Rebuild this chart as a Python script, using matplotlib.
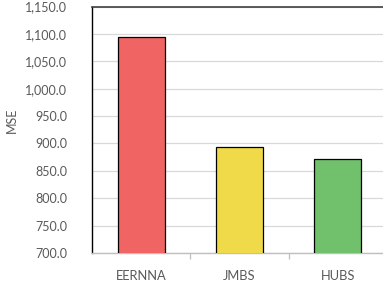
import matplotlib
matplotlib.use("Agg")
import matplotlib.pyplot as plt
from matplotlib.ticker import FuncFormatter, MultipleLocator

categories = ["EERNNA", "JMBS", "HUBS"]
mse_values = [1093.5, 893.5, 872.5]
bar_colors = ["#f06464", "#f0da4a", "#70c06c"]

plt.rcParams['font.family'] = ['Lato', 'DejaVu Sans']

fig = plt.figure(figsize=(3.83, 2.90), dpi=100)
W, H = 383, 290
ax = fig.add_axes([92 / W, 1 - 253 / H, (387 - 92) / W, (253 - 6.5) / H])

x = range(len(categories))
ax.bar(x, mse_values, width=0.475, color=bar_colors, edgecolor="black", linewidth=0.9, zorder=3)

ax.set_xlim(-0.5, 2.5)
ax.set_ylim(700, 1150)
ax.yaxis.set_major_locator(MultipleLocator(50))
ax.yaxis.set_major_formatter(FuncFormatter(lambda v, p: f"{v:,.1f}"))
ax.grid(axis="y", color="#d9d9d9", linewidth=0.9, zorder=0)

ax.set_xticks(list(x))
ax.set_xticklabels(categories)
ax.set_xticks([0.5, 1.5], minor=True)
ax.tick_params(axis="x", which="major", length=0, pad=12, labelsize=9.3, labelcolor="#595959")
ax.tick_params(axis="x", which="minor", length=4, color="#bfbfbf", width=0.9)
ax.tick_params(axis="y", length=0, pad=18, labelsize=9, labelcolor="#595959")

ax.spines["right"].set_visible(False)
ax.spines["left"].set_color("black")
ax.spines["left"].set_linewidth(1.0)
ax.spines["top"].set_color("#404040")
ax.spines["top"].set_linewidth(1.2)
ax.spines["bottom"].set_color("#bfbfbf")
ax.spines["bottom"].set_linewidth(1.0)

ax.set_ylabel("MSE", fontsize=9, color="#595959")
ax.yaxis.set_label_coords(-(92 - 18) / (387 - 92), 0.54)

fig.savefig("out.png", dpi=100)
